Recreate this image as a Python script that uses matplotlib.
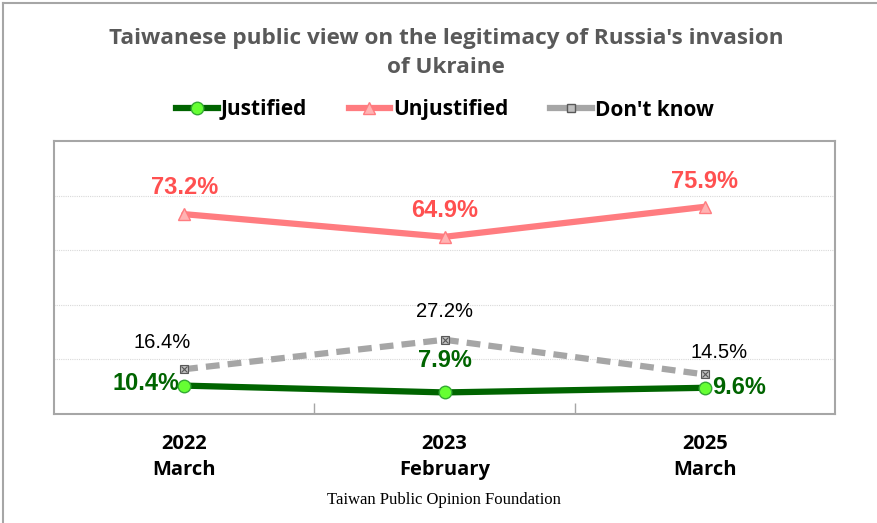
import matplotlib
matplotlib.use("Agg")
import matplotlib.pyplot as plt
from matplotlib.lines import Line2D

categories = ["2022\nMarch", "2023\nFebruary", "2025\nMarch"]
justified = [10.4, 7.9, 9.6]
unjustified = [73.2, 64.9, 75.9]
dont_know = [16.4, 27.2, 14.5]
title = "Taiwanese public view on the legitimacy of Russia's invasion\nof Ukraine"
source = "Taiwan Public Opinion Foundation"

W, H = 878, 523
fig = plt.figure(figsize=(W / 100, H / 100), dpi=100)
ax = fig.add_axes([54 / W, 1 - 414 / H, (835 - 54) / W, (414 - 141) / H])

x = list(range(len(categories)))

c_green_line = "#006400"
c_green_mk = "#66FF33"
c_red_line = "#FF7C80"
c_red_mk = "#FFB3B3"
c_red_txt = "#FF5050"
c_gray = "#A6A6A6"

ax.plot(x, unjustified, color=c_red_line, lw=4.5, marker="^", ms=9,
        mfc=c_red_mk, mec=c_red_line, mew=1, solid_capstyle="round", zorder=3)
ax.plot(x, dont_know, color=c_gray, lw=4.5, ls=(0, (2.2, 1.3)), marker="s", ms=6,
        mfc="#BFBFBF", mec="#595959", mew=0.8, zorder=3)
ax.plot(x, dont_know, ls="none", marker="x", ms=4, mec="#595959", mew=0.8, zorder=4)
ax.plot(x, justified, color=c_green_line, lw=4.5, marker="o", ms=9,
        mfc=c_green_mk, mec="#33AA33", mew=1, solid_capstyle="round", zorder=5)

ax.set_xlim(-0.5, 2.5)
ax.set_ylim(0, 100)
ax.set_yticks([20, 40, 60, 80])
ax.yaxis.grid(True, color="#D9D9D9", lw=0.8, ls=(0, (1, 1)))
ax.set_axisbelow(True)
ax.tick_params(axis="y", left=False, labelleft=False)
ax.set_xticks([0.5, 1.5])
ax.tick_params(axis="x", direction="in", length=8, color="#A6A6A6", width=1, labelbottom=False)
for s in ax.spines.values():
    s.set_color("#A6A6A6")
    s.set_linewidth(1.5)

# category labels
for xi, lab in zip(x, categories):
    ax.annotate(lab, (xi, 0), xytext=(0, -20), textcoords="offset pixels",
                ha="center", va="top", fontsize=14.5, fontweight="bold",
                family="Open Sans", linespacing=1.4, color="black")

lab_font = dict(family="Liberation Sans")
red_off = [(0, 27), (0, 26), (0, 25)]
for xi, v, off in zip(x, unjustified, red_off):
    ax.annotate(f"{v}%", (xi, v), xytext=off, textcoords="offset pixels",
                ha="center", va="center", fontsize=17, fontweight="bold",
                color=c_red_txt, **lab_font)
gray_off = [(-22, 27), (0, 28), (14, 22)]
for xi, v, off in zip(x, dont_know, gray_off):
    ax.annotate(f"{v}%", (xi, v), xytext=off, textcoords="offset pixels",
                ha="center", va="center", fontsize=14.5, color="black", **lab_font)
green_cfg = [((-5, 2), "right"), ((0, 32), "center"), ((7, 0), "left")]
for xi, v, (off, ha) in zip(x, justified, green_cfg):
    ax.annotate(f"{v}%", (xi, v), xytext=off, textcoords="offset pixels",
                ha=ha, va="center", fontsize=17, fontweight="bold",
                color=c_green_line, **lab_font)

fig.text(446 / W, 1 - 53 / H, title, ha="center", va="center", fontsize=16.2,
         fontweight="bold", color="#595959", family="Open Sans", linespacing=1.55)

handles = [
    Line2D([], [], color=c_green_line, lw=4.5, marker="o", ms=9, mfc=c_green_mk, mec="#33AA33"),
    Line2D([], [], color=c_red_line, lw=4.5, marker="^", ms=9, mfc=c_red_mk, mec=c_red_line),
    Line2D([], [], color=c_gray, lw=4.5, marker="s", ms=6, mfc="#BFBFBF", mec="#595959"),
]
leg = fig.legend(handles, ["Justified", "Unjustified", "Don't know"], loc="center",
                 bbox_to_anchor=(445 / W, 1 - 110 / H), ncol=3, frameon=False,
                 handlelength=2.0, handletextpad=0.15, columnspacing=2.0,
                 prop=dict(family="Open Sans", weight="bold", size=15))

fig.text(444 / W, 1 - 500 / H, source, ha="center", va="center", fontsize=12,
         family="Liberation Serif", color="black")

fig.add_artist(Line2D([3 / W, 1], [1 - 3 / H, 1 - 3 / H], transform=fig.transFigure,
                      color="#A6A6A6", lw=1.5))
fig.add_artist(Line2D([3 / W, 3 / W], [0, 1 - 3 / H], transform=fig.transFigure,
                      color="#A6A6A6", lw=1.5))

fig.savefig("out.png", dpi=100)
